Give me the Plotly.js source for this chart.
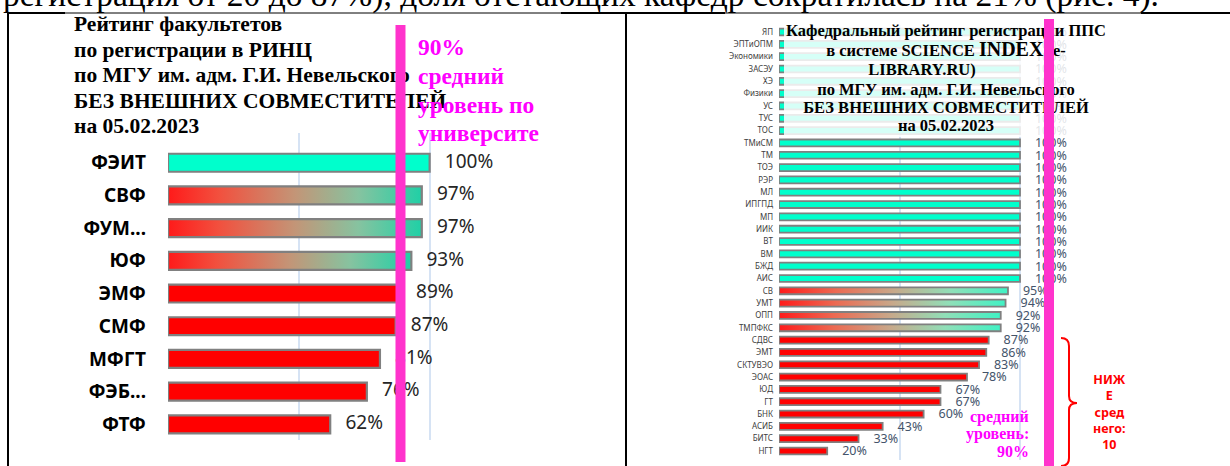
<!DOCTYPE html>
<html><head><meta charset="utf-8">
<script src="https://cdn.plot.ly/plotly-3.0.1.min.js"></script>
<style>html,body{margin:0;padding:0;background:#fff}#chart{width:1230px;height:466px}</style>
</head><body><div id="chart"></div>
<script>
// ---------------- data ----------------
const facultyNames = ['ФЭИТ','СВФ','ФУМ...','ЮФ','ЭМФ','СМФ','МФГТ','ФЭБ...','ФТФ'];
const facultyRates = [100, 97, 97, 93, 89, 87, 81, 76, 62];

const deptNames = ['ЯП','ЭПТиОПМ','Экономики','ЗАСЭУ','ХЭ','Физики','УС','ТУС','ТОС','ТМиСМ','ТМ','ТОЭ','РЭР','МЛ','ИПГПД','МП','ИИК','ВТ','ВМ','БЖД','АИС','СВ','УМТ','ОПП','ТМПФКС','СДВС','ЭМТ','СКТУВЭО','ЭОАС','ЮД','ГТ','БНК','АСИБ','БИТС','НГТ'];
const deptRates = [100,100,100,100,100,100,100,100,100,100,100,100,100,100,100,100,100,100,100,100,100,95,94,92,92,87,86,83,78,67,67,60,43,33,20];

const universityAverage = 90;

const docLine = 'регистрация от 20 до 87%), доля отстающих кафедр сократилась на 21% (рис. 4).';
const leftTitleLines = ['Рейтинг факультетов','по регистрации в РИНЦ','по МГУ им. адм. Г.И. Невельского','БЕЗ ВНЕШНИХ СОВМЕСТИТЕЛЕЙ','на 05.02.2023'];
const rightTitleLines = ['Кафедральный рейтинг регистрации ППС','в системе SCIENCE <span style="font-size:20px">INDEX</span> (e-','LIBRARY.RU)','по МГУ им. адм. Г.И. Невельского','БЕЗ ВНЕШНИХ СОВМЕСТИТЕЛЕЙ','на 05.02.2023'];
const leftAvgLines = ['90%','средний','уровень по','университе'];
const rightAvgLines = ['средний','уровень:','90%'];

// ---------------- helpers ----------------
const W = 1230, H = 466;
const fx = p => p / W, fy = p => 1 - p / H;
const CYAN = '#00ffcc', RED = '#ff0000', EDGE = '#808080';

function barTraces(names, rates, xa, ya, o) {
  const idx = names.map((_, i) => i);
  const traces = [];
  const isGrad = v => v >= universityAverage && v < 100;
  traces.push({
    type: 'bar', orientation: 'h', xaxis: xa, yaxis: ya,
    y: idx, x: rates.map(v => v / 100), width: o.bw,
    marker: {
      color: rates.map(v => v >= 100 ? CYAN : (isGrad(v) ? 'rgba(0,0,0,0)' : RED)),
      line: { color: rates.map(v => isGrad(v) ? 'rgba(0,0,0,0)' : EDGE), width: o.lw }
    },
    hoverinfo: 'skip'
  });
  rates.forEach((v, i) => {
    if (!isGrad(v)) return;
    const h = o.bw / 2, x = v / 100;
    traces.push({
      type: 'scatter', mode: 'lines', xaxis: xa, yaxis: ya,
      x: [0, x, x, 0, 0], y: [i - h, i - h, i + h, i + h, i - h],
      fill: 'toself',
      fillgradient: { type: 'horizontal', colorscale: o.grad },
      line: { color: EDGE, width: o.lw }, hoverinfo: 'skip'
    });
  });
  traces.push({
    type: 'scatter', mode: 'text', xaxis: xa, yaxis: ya, cliponaxis: false,
    x: rates.map(v => v / 100 + o.off), y: idx.map(i => i + o.dy),
    text: rates.map(v => v + '%'), textposition: 'middle right',
    textfont: o.tf, hoverinfo: 'skip'
  });
  return traces;
}

const leftGrad = [[0,'#ff1a1a'],[0.2,'#f2503e'],[0.5,'#c39577'],[0.75,'#86c3a0'],[1,'#20d0a6']];
const rightGrad = [[0,'#ff1a1a'],[0.25,'#ec6a52'],[0.5,'#c8a88a'],[0.75,'#90dfb8'],[1,'#40f2c4']];

let data = [];
data = data.concat(barTraces(facultyNames, facultyRates, 'x', 'y',
  { bw: 0.55, lw: 2.2, grad: leftGrad, off: 0.058, dy: 0,
    tf: { family: 'Noto Sans', size: 19, color: '#262626' } }));
data = data.concat(barTraces(deptNames, deptRates, 'x2', 'y2',
  { bw: 0.56, lw: 1.8, grad: rightGrad, off: 0.062, dy: 0.1,
    tf: { family: 'Noto Sans', size: 12.5, color: '#44546a' } }));

// overlay (pixel space) layer: title box + titles
data.push({
  type: 'scatter', mode: 'lines', xaxis: 'x3', yaxis: 'y3',
  x: [784, 1080, 1080, 784, 784], y: [22, 22, 137, 137, 22],
  fill: 'toself', fillcolor: 'rgba(255,255,255,0.84)', line: { width: 0 }, hoverinfo: 'skip'
});
data.push({
  type: 'scatter', mode: 'text', xaxis: 'x3', yaxis: 'y3', cliponaxis: false,
  x: leftTitleLines.map(() => 74), y: leftTitleLines.map((_, i) => 26 + i * 25.5),
  text: leftTitleLines, textposition: 'middle right',
  textfont: { family: 'Liberation Serif', size: 21.5, color: '#000', weight: 700 }, hoverinfo: 'skip'
});
data.push({
  type: 'scatter', mode: 'text', xaxis: 'x3', yaxis: 'y3', cliponaxis: false,
  x: rightTitleLines.map((_, i) => i === 2 ? 922 : 946), y: [32, 52, 71, 91, 109, 127],
  text: rightTitleLines, textposition: 'middle center',
  textfont: { family: 'Liberation Serif', size: 16.5, color: '#000', weight: 700 }, hoverinfo: 'skip'
});

// ---------------- layout ----------------
const gridAxis = {
  range: [0, 1.502], dtick: 0.5, tick0: 0, showgrid: true, gridcolor: '#d6e3f4', gridwidth: 2,
  zeroline: false, showticklabels: false, showline: false, ticks: '', fixedrange: true
};
const shapes = [
  // frame
  { type: 'line', xref: 'paper', yref: 'paper', x0: fx(8), x1: fx(8), y0: fy(12), y1: fy(466), line: { color: '#000', width: 2 } },
  { type: 'line', xref: 'paper', yref: 'paper', x0: fx(626), x1: fx(626), y0: fy(12), y1: fy(466), line: { color: '#000', width: 2 } },
  { type: 'line', xref: 'paper', yref: 'paper', x0: fx(8), x1: fx(1230), y0: fy(13), y1: fy(13), line: { color: '#000', width: 1 } },
  { type: 'line', xref: 'paper', yref: 'paper', x0: fx(8), x1: fx(65), y0: fy(13), y1: fy(13), line: { color: '#000', width: 2 } },
  { type: 'line', xref: 'paper', yref: 'paper', x0: fx(561), x1: fx(725), y0: fy(13), y1: fy(13), line: { color: '#000', width: 2 } },
  { type: 'line', xref: 'paper', yref: 'paper', x0: fx(1141), x1: fx(1230), y0: fy(13), y1: fy(13), line: { color: '#000', width: 2 } },
  // average markers (pink bars)
  { type: 'rect', layer: 'above', xref: 'x', xsizemode: 'pixel', xanchor: universityAverage / 100, x0: -8, x1: 2,
    yref: 'paper', y0: fy(462), y1: fy(25), fillcolor: '#ff33cc', line: { width: 0 } },
  { type: 'rect', layer: 'above', xref: 'paper', yref: 'paper', x0: fx(1044), x1: fx(1054), y0: fy(466), y1: fy(19),
    fillcolor: '#ff33cc', line: { width: 0 } },
  // brace
  { type: 'path', xref: 'paper', yref: 'paper', line: { color: '#ff0000', width: 2 },
    path: `M ${fx(1061)} ${fy(338)} Q ${fx(1069)} ${fy(338)} ${fx(1069)} ${fy(346)} L ${fx(1069)} ${fy(396)} Q ${fx(1069)} ${fy(403)} ${fx(1077)} ${fy(403)} Q ${fx(1069)} ${fy(403)} ${fx(1069)} ${fy(410)} L ${fx(1069)} ${fy(458)} Q ${fx(1069)} ${fy(466)} ${fx(1061)} ${fy(466)}` }
];

const belowCount = deptRates.filter(v => v < universityAverage).length;
const annotations = [];
// document text line, cut off by the top edge as in the scan
annotations.push({
  xref: 'paper', yref: 'paper', x: fx(2), y: fy(-5), xanchor: 'left', yanchor: 'middle',
  text: docLine, showarrow: false, borderpad: 0,
  font: { family: 'Liberation Serif', size: 33.5, color: '#000' }
});
leftAvgLines.forEach((t, i) => annotations.push({
  xref: 'paper', yref: 'paper', x: fx(416), y: fy([47, 76, 105, 133][i]), xanchor: 'left', yanchor: 'middle',
  text: t, showarrow: false, font: { family: 'Liberation Serif', size: 23.5, color: '#ff00ff', weight: 700 }
}));
rightAvgLines.forEach((t, i) => annotations.push({
  xref: 'paper', yref: 'paper', x: fx(1031), y: fy([417, 434, 451][i]), xanchor: 'right', yanchor: 'middle',
  text: t, showarrow: false, font: { family: 'Liberation Serif', size: 16, color: '#ff00ff', weight: 700 }
}));
annotations.push({
  xref: 'paper', yref: 'paper', x: fx(1109), y: fy(412), xanchor: 'center', yanchor: 'middle',
  text: 'НИЖ<br>Е<br>сред<br>него:<br>' + belowCount, showarrow: false, align: 'center',
  font: { family: 'Noto Sans', size: 12.5, color: '#ff0000', weight: 700 }
});

const layout = {
  width: W, height: H, margin: { l: 0, r: 0, t: 0, b: 0, pad: 0 },
  paper_bgcolor: '#ffffff', plot_bgcolor: 'rgba(0,0,0,0)', showlegend: false,
  xaxis: Object.assign({}, gridAxis, { domain: [fx(168), fx(561)], anchor: 'y' }),
  yaxis: { domain: [fy(440), fy(133)], anchor: 'x', range: [8.48, -0.91],
    tickvals: facultyNames.map((_, i) => i), ticktext: facultyNames,
    showgrid: false, zeroline: false, showline: false, ticks: '', ticklabelstandoff: 21,
    tickfont: { family: 'Noto Sans', size: 19, color: '#000', weight: 700 }, fixedrange: true },
  xaxis2: Object.assign({}, gridAxis, { domain: [fx(779), fx(1141)], anchor: 'y2' }),
  yaxis2: { domain: [fy(460), fy(25)], anchor: 'x2', range: [34.73, -0.57],
    tickvals: deptNames.map((_, i) => i), ticktext: deptNames,
    showgrid: false, zeroline: false, showline: false, ticks: '', ticklabelstandoff: 5,
    tickfont: { family: 'Noto Sans', size: 8, color: '#404040' }, fixedrange: true },
  xaxis3: { domain: [0, 1], range: [0, W], visible: false, anchor: 'y3', fixedrange: true },
  yaxis3: { domain: [0, 1], range: [H, 0], visible: false, anchor: 'x3', fixedrange: true },
  shapes: shapes, annotations: annotations
};

Plotly.newPlot('chart', data, layout, { displayModeBar: false, staticPlot: true });
</script>
</body></html>
